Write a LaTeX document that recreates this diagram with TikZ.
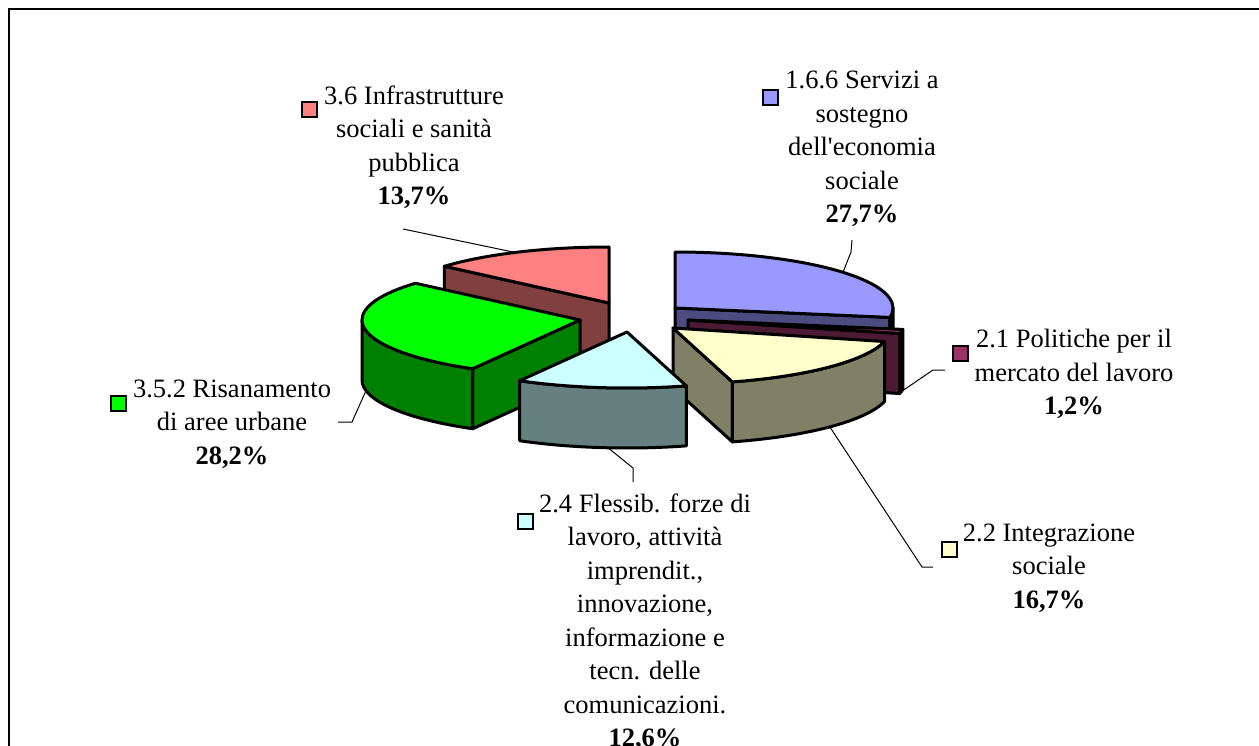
\documentclass[tikz,border=0pt]{standalone}
\usepackage{fontspec}
\setmainfont{Liberation Serif}
\usepackage{xcolor}
\usetikzlibrary{calc}

\definecolor{blueTop}{HTML}{9999FF}
\definecolor{blueSide}{HTML}{4C4C80}
\definecolor{wineTop}{HTML}{993366}
\definecolor{wineSide}{HTML}{4C1A33}
\definecolor{creamTop}{HTML}{FFFFCC}
\definecolor{creamSide}{HTML}{808066}
\definecolor{aquaTop}{HTML}{CCFFFF}
\definecolor{aquaSide}{HTML}{668080}
\definecolor{greenTop}{HTML}{00FF00}
\definecolor{greenSide}{HTML}{008000}
\definecolor{pinkTop}{HTML}{FF8080}
\definecolor{pinkSide}{HTML}{804040}

\tikzset{
  pie/.style={draw=black, line width=3pt, line join=round},
  ell/.style={x radius=218, y radius=56},
  lead/.style={draw=black, line width=1pt},
  swatch/.style={draw=black, line width=2pt, minimum size=15pt, inner sep=0pt},
  lbl/.style={align=center, inner sep=0pt, font=\fontsize{26.5}{33.5}\selectfont},
}

\begin{document}
\begin{tikzpicture}[x=1pt,y=1pt]
  % page and frame
  \useasboundingbox (0,0) rectangle (1259,-746);
  \fill[white] (0,0) rectangle (1259,-746);
  \draw[line width=2pt] (1259,-9) -- (9,-9) -- (9,-746);

  % 3.6 slice
  \begin{scope}[shift={(609,-303)}]
    \filldraw[pie, fill=pinkSide] (0,0) -- (139:218 and 56) -- ++(0,-60) -- (0,-60) -- cycle;
    \filldraw[pie, fill=pinkTop] (0,0) -- (90:218 and 56) arc[ell, start angle=90, end angle=139] -- cycle;
    \coordinate (pinkTip) at (115.5:218 and 56);
  \end{scope}

  % 1.6.6 slice
  \begin{scope}[shift={(675,-308)}]
    \filldraw[pie, fill=blueSide] (0,0) -- (-9.7:218 and 56) -- ++(0,-60) -- (0,-60) -- cycle;
    \filldraw[pie, fill=blueSide] (0:218 and 56) arc[ell, start angle=0, end angle=-9.7] -- ++(0,-60) arc[ell, start angle=-9.7, end angle=0] -- cycle;
    \filldraw[pie, fill=blueTop] (0,0) -- (90:218 and 56) arc[ell, start angle=90, end angle=-9.7] -- cycle;
    \coordinate (blueTip) at (39.6:218 and 56);
  \end{scope}

  % 2.1 slice
  \begin{scope}[shift={(688,-320)}]
    \filldraw[pie, fill=wineSide] (0,0) -- (-14:218 and 56) -- ++(0,-60) -- (0,-60) -- cycle;
    \filldraw[pie, fill=wineSide] (-9.7:218 and 56) arc[ell, start angle=-9.7, end angle=-14] -- ++(0,-60) arc[ell, start angle=-14, end angle=-9.7] -- cycle;
    \filldraw[pie, fill=wineTop] (0,0) -- (-9.7:218 and 56) arc[ell, start angle=-9.7, end angle=-14] -- cycle;
    \coordinate (wineTip) at ($(-12:218 and 56)+(0,-60)$);
  \end{scope}

  % 2.2 slice
  \begin{scope}[shift={(673,-328)}]
    \filldraw[pie, fill=creamSide] (0,0) -- (-74.2:218 and 56) -- ++(0,-60) -- (0,-60) -- cycle;
    \filldraw[pie, fill=creamSide] (-14:218 and 56) arc[ell, start angle=-14, end angle=-74.2] -- ++(0,-60) arc[ell, start angle=-74.2, end angle=-14] -- cycle;
    \filldraw[pie, fill=creamTop] (0,0) -- (-14:218 and 56) arc[ell, start angle=-14, end angle=-74.2] -- cycle;
    \coordinate (creamTip) at ($(-44:218 and 56)+(0,-60)$);
  \end{scope}

  % 3.5.2 slice
  \begin{scope}[shift={(580,-320)}]
    \filldraw[pie, fill=greenSide] (0,0) -- (-119.5:218 and 56) -- ++(0,-60) -- (0,-60) -- cycle;
    \filldraw[pie, fill=greenSide] (-119.5:218 and 56) arc[ell, start angle=-119.5, end angle=-180] -- ++(0,-60) arc[ell, start angle=-180, end angle=-119.5] -- cycle;
    \filldraw[pie, fill=greenTop] (0,0) -- (-119.5:218 and 56) arc[ell, start angle=-119.5, end angle=-221] -- cycle;
    \coordinate (greenTip) at ($(-169:218 and 56)+(0,-60)$);
  \end{scope}

  % 2.4 slice
  \begin{scope}[shift={(627,-332)}]
    \filldraw[pie, fill=aquaSide] (-74.2:218 and 56) arc[ell, start angle=-74.2, end angle=-119.5] -- ++(0,-60) arc[ell, start angle=-119.5, end angle=-74.2] -- cycle;
    \filldraw[pie, fill=aquaTop] (0,0) -- (-74.2:218 and 56) arc[ell, start angle=-74.2, end angle=-119.5] -- cycle;
    \coordinate (aquaTip) at ($(-95:218 and 56)+(0,-60)$);
  \end{scope}

  % labels
  \node[lbl] (pinkLbl) at (414,-147) {3.6 Infrastrutture\\sociali e sanità\\pubblica\\\textbf{13,7\%}};
  \node[swatch, fill=pinkTop] (pinkKey) at (309,-110) {};
  \node[lbl] (blueLbl) at (862,-149) {1.6.6 Servizi a\\sostegno\\dell\textquotesingle economia\\sociale\\\textbf{27,7\%}};
  \node[swatch, fill=blueTop] (blueKey) at (770,-98) {};
  \node[lbl] (wineLbl) at (1074,-374) {2.1 Politiche per il\\mercato del lavoro\\\textbf{1,2\%}};
  \node[swatch, fill=wineTop] (wineKey) at (960,-353) {};
  \node[lbl] (creamLbl) at (1049,-568) {2.2 Integrazione\\sociale\\\textbf{16,7\%}};
  \node[swatch, fill=creamTop] (creamKey) at (949,-549) {};
  \node[lbl] (greenLbl) at (232,-424) {3.5.2 Risanamento\\di aree urbane\\\textbf{28,2\%}};
  \node[swatch, fill=greenTop] (greenKey) at (118,-403) {};
  \node[lbl] (aquaLbl) at (645,-622) {2.4 Flessib. forze di\\lavoro, attività\\imprendit.,\\innovazione,\\informazione e\\tecn. delle\\comunicazioni.\\\textbf{12,6\%}};
  \node[swatch, fill=aquaTop] (aquaKey) at (525,-521) {};

  % leader lines
  \coordinate (pinkEnd) at (403,-229);
  \coordinate (blueEnd) at (852,-240);
  \coordinate (wineEnd) at (945,-370);
  \coordinate (creamEnd) at (933,-567);
  \coordinate (greenEnd) at (338,-422);
  \coordinate (aquaEnd) at (633,-482);
  \draw[lead] (pinkEnd) -- (pinkTip);
  \draw[lead] (blueEnd) -- ++(-1,-12) -- (blueTip);
  \draw[lead] (wineEnd) -- ++(-12,0) -- (wineTip);
  \draw[lead] (creamEnd) -- ++(-11,0) -- (creamTip);
  \draw[lead] (greenEnd) -- ++(14,0) -- (greenTip);
  \draw[lead] (aquaEnd) -- ++(0,14) -- (aquaTip);
\end{tikzpicture}
\end{document}
